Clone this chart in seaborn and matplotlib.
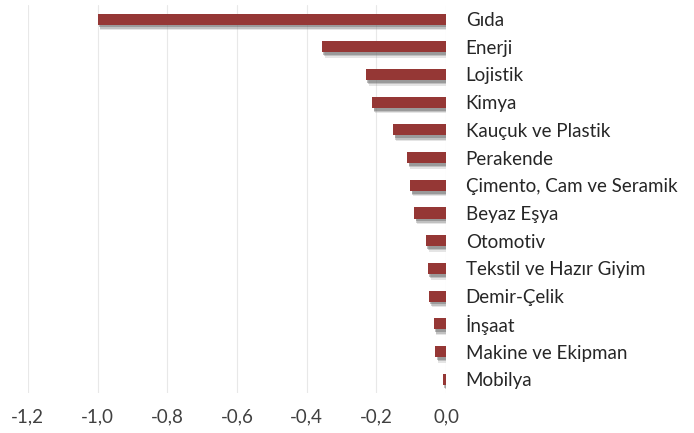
import pandas as pd
import seaborn as sns
import matplotlib.pyplot as plt
import matplotlib.patheffects as pe

sectors = ["Gıda", "Enerji", "Lojistik", "Kimya", "Kauçuk ve Plastik", "Perakende",
           "Çimento, Cam ve Seramik", "Beyaz Eşya", "Otomotiv", "Tekstil ve Hazır Giyim",
           "Demir-Çelik", "İnşaat", "Makine ve Ekipman", "Mobilya"]
values = [-1.00, -0.356, -0.23, -0.212, -0.152, -0.112, -0.103, -0.092,
          -0.058, -0.052, -0.050, -0.036, -0.031, -0.010]
xticks = [-1.2, -1.0, -0.8, -0.6, -0.4, -0.2, 0.0]

sns.set_theme(style="white")
plt.rcParams['font.family'] = ['Lato', 'DejaVu Sans']

df = pd.DataFrame({"sektor": sectors, "deger": values})

fig = plt.figure(figsize=(6.94, 4.33), dpi=100)
ax = fig.add_axes([0.040, 0.092, 0.603, 0.896])

sns.barplot(data=df, x="deger", y="sektor", orient="h", color="#953735",
            saturation=1, width=0.4, linewidth=0, ax=ax, zorder=3)
# soft drop shadow, roughly like the original's blurred one
for p in ax.patches:
    p.set_path_effects([
        pe.SimplePatchShadow(offset=(2, -4), shadow_rgbFace="#9a9a9a", alpha=0.25),
        pe.SimplePatchShadow(offset=(1.5, -3), shadow_rgbFace="#808080", alpha=0.35),
        pe.SimplePatchShadow(offset=(1, -2), shadow_rgbFace="#606060", alpha=0.4),
        pe.Normal()])

ax.set_xlim(-1.2, 0.0)
ax.set_xticks(xticks)
ax.set_xticklabels([f"{t:.1f}".replace(".", ",") for t in xticks])
ax.grid(axis="x", color="#e8e8e8", linewidth=0.8, zorder=0)
ax.yaxis.tick_right()
ax.tick_params(axis="y", length=0, pad=14, labelsize=13.5, labelcolor="#262626")
ax.tick_params(axis="x", length=0, pad=11, labelsize=13.5, labelcolor="#404040")
ax.set_xlabel("")
ax.set_ylabel("")
for s in ax.spines.values():
    s.set_visible(False)

fig.savefig("out.png", dpi=100)
